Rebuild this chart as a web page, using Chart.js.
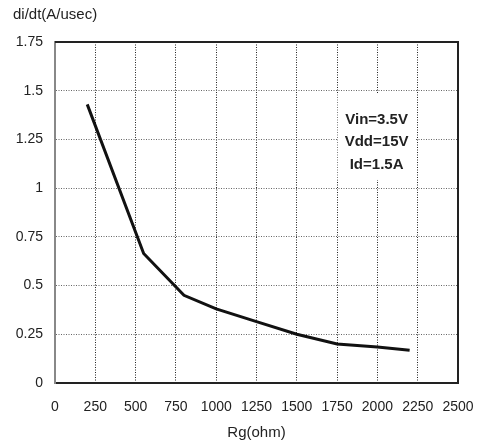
<!DOCTYPE html>
<html>
<head>
<meta charset="utf-8">
<script src="https://cdn.jsdelivr.net/npm/chart.js@4"></script>
<style>
    html, body { margin: 0; padding: 0; background: #fff; }
    #wrap { width: 482px; height: 446px; }
</style>
</head>
<body>
<div id="wrap"><canvas id="chart" width="482" height="446"></canvas></div>
<script>
// Rg (ohm) vs di/dt (A/usec)
const rgValues = [200, 550, 800, 1000, 1250, 1500, 1750, 2000, 2200];
const didtValues = [1.43, 0.665, 0.45, 0.38, 0.315, 0.25, 0.2, 0.185, 0.168];
const xTicks = [0, 250, 500, 750, 1000, 1250, 1500, 1750, 2000, 2250, 2500];
const yTicks = [0, 0.25, 0.5, 0.75, 1, 1.25, 1.5, 1.75];
const noteLines = ['Vin=3.5V', 'Vdd=15V', 'Id=1.5A'];

const FONT = '"Liberation Sans", Arial, sans-serif';

// y axis title at the top-left, frame on top/right, and the condition note
const decorations = {
    id: 'decorations',
    beforeDatasetsDraw(chart) {
        const { ctx, scales } = chart;
        ctx.save();
        // white box behind the note
        const cx = scales.x.getPixelForValue(1995);
        const cy = scales.y.getPixelForValue(1.237);
        ctx.fillStyle = '#fff';
        ctx.fillRect(cx - 39, cy - 48, 78, 86);
        ctx.fillStyle = '#222';
        ctx.font = 'bold 15px ' + FONT;
        ctx.textAlign = 'center';
        ctx.textBaseline = 'middle';
        noteLines.forEach((t, i) => ctx.fillText(t, cx, cy + (i - 1) * 22.5));
        ctx.restore();
    },
    afterDraw(chart) {
        const { ctx, chartArea: a } = chart;
        ctx.save();
        ctx.strokeStyle = '#222';
        ctx.lineWidth = 2;
        ctx.beginPath();
        ctx.moveTo(a.left, a.top);
        ctx.lineTo(a.right, a.top);
        ctx.lineTo(a.right, a.bottom);
        ctx.stroke();
        ctx.fillStyle = '#222';
        ctx.font = '15px ' + FONT;
        ctx.textAlign = 'left';
        ctx.textBaseline = 'middle';
        ctx.fillText('di/dt(A/usec)', 13, 15);
        ctx.restore();
    }
};

new Chart(document.getElementById('chart'), {
    type: 'line',
    data: {
        datasets: [{
            data: rgValues.map((x, i) => ({ x: x, y: didtValues[i] })),
            borderColor: '#111',
            borderWidth: 3,
            pointRadius: 0,
            tension: 0,
            fill: false
        }]
    },
    options: {
        responsive: false,
        animation: false,
        layout: { padding: { top: 42, right: 24, left: 0, bottom: 0 } },
        plugins: {
            legend: { display: false },
            tooltip: { enabled: false }
        },
        scales: {
            x: {
                type: 'linear',
                min: 0,
                max: 2500,
                afterBuildTicks: s => { s.ticks = xTicks.map(v => ({ value: v })); },
                afterFit: s => { s.height = 63; s.paddingRight = 0; s.paddingLeft = 0; },
                grid: { color: '#222', lineWidth: 1, drawTicks: false },
                border: { color: '#222', width: 2, dash: [1, 1.5] },
                ticks: { color: '#222', font: { family: FONT, size: 14 }, padding: 16, maxRotation: 0, callback: v => String(v) },
                title: { display: true, text: 'Rg(ohm)', color: '#222', font: { family: FONT, size: 15 }, padding: { top: 4, bottom: 4 } }
            },
            y: {
                min: 0,
                max: 1.75,
                afterBuildTicks: s => { s.ticks = yTicks.map(v => ({ value: v })); },
                afterFit: s => { s.width = 55; s.paddingTop = 0; s.paddingBottom = 0; },
                grid: { color: '#666', lineWidth: 1, drawTicks: false },
                border: { color: '#888', width: 2, dash: [1, 1.5] },
                ticks: { color: '#222', font: { family: FONT, size: 14 }, padding: 12, callback: v => String(v) }
            }
        }
    },
    plugins: [decorations]
});
</script>
</body>
</html>
